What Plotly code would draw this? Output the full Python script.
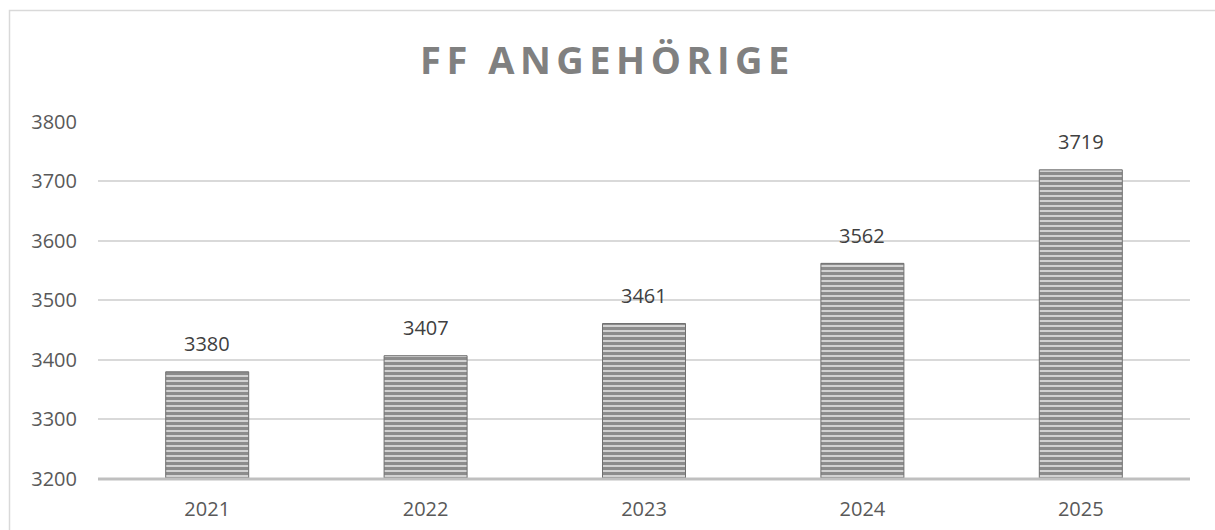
import plotly.graph_objects as go

years = ["2021", "2022", "2023", "2024", "2025"]
members = [3380, 3407, 3461, 3562, 3719]
y_ticks = [3200, 3300, 3400, 3500, 3600, 3700, 3800]
title_text = "FF ANGEHÖRIGE"

W, H = 1215, 530
ml, mr, mt, mb = 98, 25, 121, 51
pw, ph = W - ml - mr, H - mt - mb

fig = go.Figure()
fig.add_trace(go.Bar(
    x=years, y=members,
    width=0.38,
    marker=dict(
        color="#cfcfcf",
        line=dict(width=1, color="#707070"),
        pattern=dict(shape="-", size=5, solidity=0.6, fgcolor="#454545",
                     bgcolor="#d2d2d2", fillmode="overlay"),
    ),
    hoverinfo="skip",
))

# category axis: annotation positions use the category index
annotations = [
    dict(x=i, y=v, xref="x", yref="y", text=str(v), showarrow=False,
         yshift=28, font=dict(family="Open Sans", size=20, color="#404040"))
    for i, v in enumerate(members)
]

fig.update_layout(
    width=W, height=H,
    margin=dict(l=ml, r=mr, t=mt, b=mb, autoexpand=False),
    paper_bgcolor="white", plot_bgcolor="white",
    showlegend=False,
    title=dict(text="<b>" + title_text + "</b>", x=0.5, xanchor="center",
               y=1 - 61 / H, yanchor="middle",
               font=dict(family="Open Sans", size=38, color="#808080")),
    xaxis=dict(
        type="category", automargin=False, range=[-0.5, len(years) - 0.5],
        showgrid=False, showline=False, zeroline=False,
        tickfont=dict(family="Open Sans", size=20, color="#595959"),
        ticks="", ticklabelstandoff=16,
    ),
    yaxis=dict(
        range=[3200, 3801], tickvals=y_ticks, automargin=False,
        showgrid=True, gridcolor="#d9d9d9", gridwidth=1.5,
        zeroline=False, showline=False,
        tickfont=dict(family="Open Sans", size=20, color="#595959"),
        ticks="", ticklabelstandoff=20,
    ),
    annotations=annotations,
    shapes=[
        dict(type="line", xref="paper", yref="paper", x0=0, x1=1, y0=0, y1=0,
             line=dict(color="#bfbfbf", width=3), layer="above"),
        dict(type="rect", xref="paper", yref="paper",
             x0=-(ml - 9.5) / pw, x1=(pw + mr + 5) / pw,
             y0=-(mb + 5) / ph, y1=(ph + mt - 10.5) / ph,
             line=dict(color="#d9d9d9", width=1.5), layer="below"),
    ],
)

post = """
document.body.style.margin = '0';
document.body.style.overflow = 'hidden';
var tt = document.querySelector('.gtitle');
if (tt) { tt.style.letterSpacing = '5.5px'; }
"""

fig.write_html("out.html", post_script=post, config={"displayModeBar": False})
